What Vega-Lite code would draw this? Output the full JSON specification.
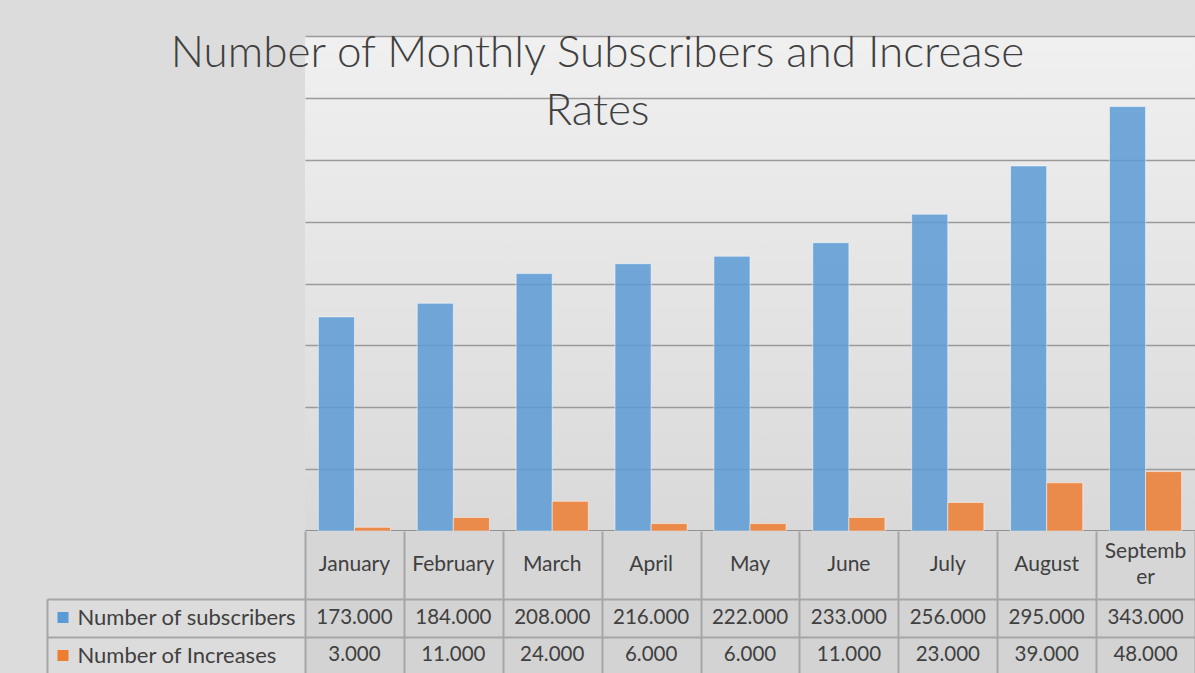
{
  "$schema": "https://vega.github.io/schema/vega-lite/v6.json",
  "padding": {"top": 32, "left": 0, "right": 0, "bottom": 0},
  "background": "#DCDCDC",
  "spacing": 0,
  "bounds": "flush",
  "title": {
    "text": ["Number of Monthly Subscribers and Increase", "Rates"],
    "font": "Lato",
    "fontSize": 44,
    "fontWeight": 300,
    "color": "#404040",
    "anchor": "middle",
    "lineHeight": 58,
    "offset": -98
  },
  "datasets": {
    "table": [
      {"month": "January", "series": "Number of subscribers", "value": 173000},
      {"month": "February", "series": "Number of subscribers", "value": 184000},
      {"month": "March", "series": "Number of subscribers", "value": 208000},
      {"month": "April", "series": "Number of subscribers", "value": 216000},
      {"month": "May", "series": "Number of subscribers", "value": 222000},
      {"month": "June", "series": "Number of subscribers", "value": 233000},
      {"month": "July", "series": "Number of subscribers", "value": 256000},
      {"month": "August", "series": "Number of subscribers", "value": 295000},
      {"month": "September", "series": "Number of subscribers", "value": 343000},
      {"month": "January", "series": "Number of Increases", "value": 3000},
      {"month": "February", "series": "Number of Increases", "value": 11000},
      {"month": "March", "series": "Number of Increases", "value": 24000},
      {"month": "April", "series": "Number of Increases", "value": 6000},
      {"month": "May", "series": "Number of Increases", "value": 6000},
      {"month": "June", "series": "Number of Increases", "value": 11000},
      {"month": "July", "series": "Number of Increases", "value": 23000},
      {"month": "August", "series": "Number of Increases", "value": 39000},
      {"month": "September", "series": "Number of Increases", "value": 48000}
    ]
  },
  "config": {
    "font": "Lato",
    "view": {"stroke": null},
    "locale": {
      "number": {"decimal": ",", "thousands": ".", "grouping": [3], "currency": ["", ""]}
    }
  },
  "resolve": {"scale": {"x": "independent", "y": "independent"}},
  "vconcat": [
    {
      "width": 890,
      "height": 495,
      "data": {"name": "table"},
      "view": {
        "fill": {
          "gradient": "linear",
          "x1": 0, "y1": 0, "x2": 0, "y2": 1,
          "stops": [
            {"offset": 0, "color": "#F0F0F0"},
            {"offset": 1, "color": "#D9D9D9"}
          ]
        }
      },
      "mark": {"type": "bar", "fillOpacity": 0.85, "stroke": "#FFFFFF", "strokeOpacity": 0.5, "strokeWidth": 1},
      "encoding": {
        "x": {
          "field": "month", "type": "nominal",
          "sort": ["January", "February", "March", "April", "May", "June", "July", "August", "September"],
          "scale": {"paddingInner": 0.27, "paddingOuter": 0.135},
          "axis": {"title": null, "labels": false, "ticks": false, "grid": false, "domain": true, "domainColor": "#7F7F7F", "domainWidth": 2.5}
        },
        "xOffset": {"field": "series", "type": "nominal", "sort": ["Number of subscribers", "Number of Increases"]},
        "y": {
          "field": "value", "type": "quantitative",
          "scale": {"domain": [0, 400000]},
          "axis": {
            "title": null, "labels": false, "ticks": false, "domain": false,
            "grid": true, "gridColor": "#9A9A9A", "gridWidth": 1.5,
            "values": [0, 50000, 100000, 150000, 200000, 250000, 300000, 350000, 400000],
            "minExtent": 305, "maxExtent": 305
          }
        },
        "color": {
          "field": "series", "type": "nominal",
          "scale": {"domain": ["Number of subscribers", "Number of Increases"], "range": ["#5B9BD5", "#ED7D31"]},
          "legend": null
        }
      }
    },
    {
      "width": 890,
      "height": 68,
      "data": {"name": "table"},
      "view": {"fill": "#D6D6D6"},
      "transform": [
        {"filter": "datum.series === 'Number of subscribers'"}
      ],
      "encoding": {
        "x": {
          "field": "month", "type": "nominal",
          "sort": ["January", "February", "March", "April", "May", "June", "July", "August", "September"],
          "scale": {"paddingInner": 0, "paddingOuter": 0},
          "axis": {"title": null, "labels": false, "ticks": false, "domain": false, "grid": true, "tickBand": "extent", "gridColor": "#A6A6A6", "gridWidth": 2}
        },
        "y": {
          "datum": "header", "type": "nominal",
          "axis": {"title": null, "labels": false, "ticks": false, "domain": false, "grid": false, "minExtent": 305, "maxExtent": 305}
        }
      },
      "layer": [
        {
          "transform": [{"filter": "datum.month !== 'September'"}],
          "mark": {"type": "text", "fontSize": 21, "color": "#404040"},
          "encoding": {"text": {"field": "month"}}
        },
        {
          "transform": [
            {"filter": "datum.month === 'September'"},
            {"calculate": "['Septemb', 'er']", "as": "label"}
          ],
          "mark": {"type": "text", "fontSize": 21, "color": "#404040", "lineHeight": 26, "dy": -13},
          "encoding": {"text": {"field": "label"}}
        }
      ]
    },
    {
      "width": 890,
      "height": 75,
      "data": {"name": "table"},
      "view": {"fill": "#D3D3D3"},
      "resolve": {"axis": {"y": "independent"}},
      "layer": [
        {
          "mark": {"type": "text", "fontSize": 20.5, "color": "#404040"},
          "encoding": {
            "x": {
              "field": "month", "type": "nominal",
              "sort": ["January", "February", "March", "April", "May", "June", "July", "August", "September"],
              "scale": {"paddingInner": 0, "paddingOuter": 0},
              "axis": {"title": null, "labels": false, "ticks": false, "domain": false, "grid": true, "tickBand": "extent", "gridColor": "#A6A6A6", "gridWidth": 2}
            },
            "y": {
              "field": "series", "type": "nominal",
              "sort": ["Number of subscribers", "Number of Increases"],
              "scale": {"paddingInner": 0, "paddingOuter": 0},
              "axis": {
                "title": null, "orient": "left",
                "labelAlign": "left", "labelPadding": -30, "labelFontSize": 22, "labelColor": "#404040", "labelFont": "Lato", "labelLimit": 260,
                "ticks": true, "tickBand": "extent", "tickSize": 258, "tickColor": "#A6A6A6", "tickWidth": 2,
                "domain": false, "grid": true, "gridColor": "#A6A6A6", "gridWidth": 2,
                "minExtent": 305, "maxExtent": 305
              }
            },
            "text": {"field": "value", "type": "quantitative", "format": ",d"}
          }
        },
        {
          "mark": {"type": "text", "opacity": 0},
          "encoding": {
            "y": {
              "field": "series", "type": "nominal",
              "sort": ["Number of subscribers", "Number of Increases"],
              "axis": {
                "title": null, "orient": "left", "offset": 237,
                "labels": false, "domain": false, "grid": false,
                "ticks": true, "tickSize": 11, "tickWidth": 11,
                "tickColor": {"condition": {"test": "datum.value === 'Number of subscribers'", "value": "#5B9BD5"}, "value": "#ED7D31"},
                "minExtent": 0, "maxExtent": 0
              }
            },
            "text": {"field": "series"}
          }
        },
        {
          "mark": {"type": "text", "opacity": 0},
          "encoding": {
            "y": {
              "field": "series", "type": "nominal",
              "sort": ["Number of subscribers", "Number of Increases"],
              "axis": {
                "title": null, "orient": "left", "offset": 258,
                "labels": false, "ticks": false, "grid": false,
                "domain": true, "domainColor": "#A6A6A6", "domainWidth": 2,
                "minExtent": 0, "maxExtent": 0
              }
            },
            "text": {"field": "series"}
          }
        }
      ]
    }
  ]
}
